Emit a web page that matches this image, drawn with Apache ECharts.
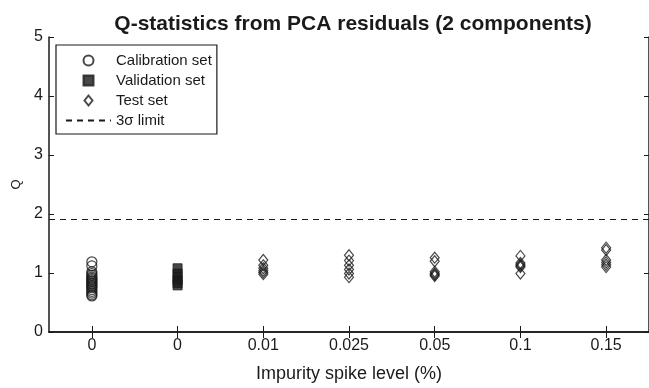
<!DOCTYPE html>
<html>
<head>
<meta charset="utf-8">
<script src="https://cdn.jsdelivr.net/npm/echarts@6/dist/echarts.min.js"></script>
<style>
  html, body { margin: 0; padding: 0; background: #fff; }
  #chart { width: 649px; height: 388px; }
</style>
</head>
<body>
<div id="chart"></div>
<script>
// Category tick labels along the x axis (impurity spike level, %)
const levelLabels = ['0', '0', '0.01', '0.025', '0.05', '0.1', '0.15'];

// Q-statistic values per group
const calibrationQ = [1.19, 1.12, 1.02, 0.99, 0.96, 0.93, 0.91, 0.89, 0.87, 0.85,
                      0.83, 0.81, 0.79, 0.77, 0.75, 0.72, 0.69, 0.66, 0.63, 0.61];
const validationQ = [1.08, 0.99, 0.93, 0.88, 0.83, 0.79];
const testQ001  = [1.22, 1.13, 1.08, 1.04, 1.01, 0.98];
const testQ0025 = [1.30, 1.21, 1.13, 1.06, 0.99, 0.93];
const testQ005  = [1.26, 1.20, 1.02, 0.99, 0.97, 0.95];
const testQ01   = [1.29, 1.17, 1.14, 1.12, 1.10, 0.99];
const testQ015  = [1.43, 1.39, 1.22, 1.18, 1.14, 1.10];

// 3-sigma control limit
const qLimit = 1.91;

// y-axis ticks
const yMin = 0, yMax = 5, yStep = 1;

const toPoints = (idx, vals) => vals.map(v => [idx, v]);
const testGroups = [testQ001, testQ0025, testQ005, testQ01, testQ015];
const testPoints = [];
testGroups.forEach((g, i) => testPoints.push(...toPoints(i + 2, g)));

const FONT = 'Liberation Sans, Arial, Helvetica, sans-serif';
const INK = '#1a1a1a';

// Legend glyphs with a fixed aspect so they are not stretched to the item width
const SQUARE_ICON = 'path://M0,0L10,0L10,10L0,10Z';
const DIAMOND_ICON = 'path://M4,0L8,5L4,10L0,5Z';

const chart = echarts.init(document.getElementById('chart'), null, { renderer: 'canvas' });

const xBase = {
  type: 'category',
  data: levelLabels,
  boundaryGap: true,
  axisLine: { show: true, lineStyle: { color: INK, width: 1.5 } },
  axisTick: { show: true, inside: true, alignWithLabel: true, length: 6, lineStyle: { color: INK, width: 1 } },
  splitLine: { show: false }
};
const yBase = {
  type: 'value',
  min: yMin, max: yMax, interval: yStep,
  axisLine: { show: true, lineStyle: { color: INK, width: 1.5 } },
  axisTick: { show: true, inside: true, length: 5, lineStyle: { color: INK, width: 1 } },
  splitLine: { show: false }
};

chart.setOption({
  animation: false,
  backgroundColor: '#fff',
  title: {
    text: 'Q-statistics from PCA residuals (2 components)',
    left: 348, top: 9, textAlign: 'center',
    textStyle: { fontFamily: FONT, fontSize: 21, fontWeight: 'bold', color: INK }
  },
  grid: { left: 49, top: 37, right: -3, bottom: 54 },
  legend: {
    orient: 'vertical',
    left: 56, top: 45,
    padding: [8, 5, 6, 9],
    itemWidth: 45, itemHeight: 10, itemGap: 5,
    symbolKeepAspect: true,
    borderColor: INK, borderWidth: 1.2,
    backgroundColor: '#fff',
    textStyle: { fontFamily: FONT, fontSize: 15, color: INK },
    data: [
      { name: 'Calibration set' },
      { name: 'Validation set', icon: SQUARE_ICON },
      { name: 'Test set', icon: DIAMOND_ICON },
      { name: '3\u03c3 limit' }
    ]
  },
  xAxis: [
    Object.assign({}, xBase, {
      position: 'bottom',
      axisLabel: { fontFamily: FONT, fontSize: 16, color: INK, margin: 6 },
      name: 'Impurity spike level (%)',
      nameLocation: 'middle', nameGap: 33,
      nameTextStyle: { fontFamily: FONT, fontSize: 18, color: INK }
    }),
    Object.assign({}, xBase, { position: 'top', axisLabel: { show: false } })
  ],
  yAxis: [
    Object.assign({}, yBase, {
      position: 'left',
      axisLabel: { fontFamily: FONT, fontSize: 16, color: INK, margin: 6 },
      name: 'Q', nameLocation: 'middle', nameGap: 26,
      nameTextStyle: { fontFamily: FONT, fontSize: 13, color: INK }
    }),
    Object.assign({}, yBase, { position: 'right', axisLabel: { show: false } })
  ],
  series: [
    {
      name: 'Calibration set', type: 'scatter',
      symbol: 'circle', symbolSize: 10,
      itemStyle: { color: 'rgba(0,0,0,0)', borderColor: INK, borderWidth: 1.2 },
      data: toPoints(0, calibrationQ), z: 3
    },
    {
      name: 'Validation set', type: 'scatter',
      symbol: 'rect', symbolSize: 9,
      itemStyle: { color: INK, borderColor: INK, borderWidth: 1 },
      data: toPoints(1, validationQ), z: 3
    },
    {
      name: 'Test set', type: 'scatter',
      symbol: 'diamond', symbolSize: [9, 11],
      itemStyle: { color: 'rgba(0,0,0,0)', borderColor: INK, borderWidth: 1.2 },
      data: testPoints, z: 3
    },
    {
      // Dashed control limit across the full plot width
      name: '3\u03c3 limit', type: 'line',
      data: [], symbol: 'none', showSymbol: false,
      lineStyle: { color: INK, width: 1, type: [6, 5] },
      itemStyle: { color: 'rgba(0,0,0,0)', borderWidth: 0 },
      markLine: {
        silent: true, symbol: 'none', label: { show: false },
        lineStyle: { color: INK, width: 1, type: [6, 5] },
        data: [{ yAxis: qLimit }]
      }
    }
  ]
});
</script>
</body>
</html>
